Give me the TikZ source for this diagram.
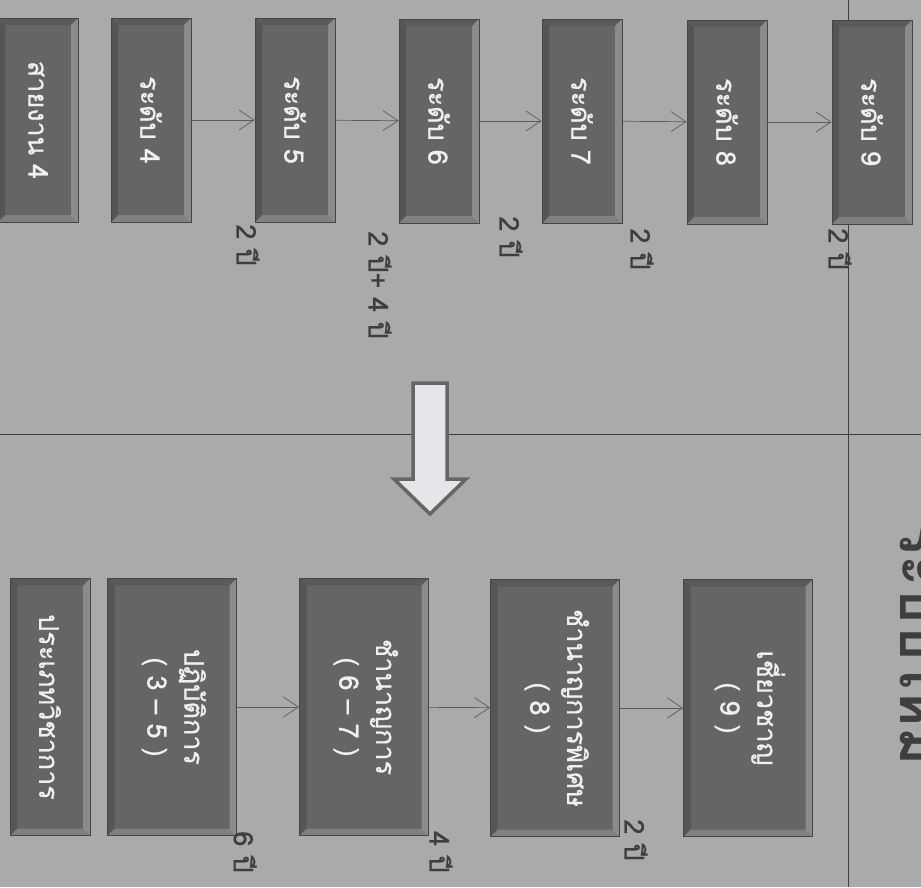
\documentclass[tikz,border=0pt]{standalone}
\usepackage{fontspec}
\setmainfont[Script=Thai]{Loma}
\newfontfamily\boxfont[Script=Thai, FakeBold=0.7]{Loma}
\usetikzlibrary{arrows.meta}

\definecolor{paper}{HTML}{A9AAAC}
\definecolor{boxgray}{HTML}{656567}
\definecolor{boxedge}{HTML}{454545}
\definecolor{boxtext}{HTML}{F0F0F0}
\definecolor{inkgray}{HTML}{3E3E3E}
\definecolor{arrowfill}{HTML}{E6E6EA}

\newcommand{\rot}[1]{\rotatebox{-90}{#1}}

\begin{document}
\begin{tikzpicture}[
x=1pt, y=-1pt,
lvl/.style={draw=boxedge, line width=0.8pt, fill=boxgray, text=boxtext,
  minimum width=80pt, minimum height=204pt, inner sep=0pt,
  font=\boxfont\fontsize{27}{31}\selectfont, bevel},
grp/.style={lvl, minimum width=129pt, minimum height=257pt},
bevel/.style={path picture={
  \path (path picture bounding box.south west) coordinate (bl)
        (path picture bounding box.south east) coordinate (br)
        (path picture bounding box.north east) coordinate (tr)
        (path picture bounding box.north west) coordinate (tl);
  \fill[white, opacity=.25] (tr) -- (br) -- ([xshift=-7pt,yshift=7pt]br) -- ([xshift=-7pt,yshift=-7pt]tr) -- cycle;
  \fill[white, opacity=.18] (bl) -- (br) -- ([xshift=-7pt,yshift=7pt]br) -- ([xshift=7pt,yshift=7pt]bl) -- cycle;
  \fill[black, opacity=.15] (tl) -- (bl) -- ([xshift=7pt,yshift=7pt]bl) -- ([xshift=7pt,yshift=-7pt]tl) -- cycle;
  \fill[black, opacity=.10] (tl) -- (tr) -- ([xshift=-7pt,yshift=-7pt]tr) -- ([xshift=7pt,yshift=-7pt]tl) -- cycle;
}},
arrow/.style={-{Straight Barb[length=15pt,width=20pt]}, line width=0.7pt, draw=inkgray!85},
yrs/.style={text=inkgray, inner sep=0pt, font=\boxfont\fontsize{27}{31}\selectfont},
rule/.style={draw=inkgray, line width=0.8pt}
]

\useasboundingbox (0,0) rectangle (921,887);
\fill[paper] (0,0) rectangle (921,887);

% dividers
\coordinate (vtop) at (848,0);
\coordinate (vbot) at (848,887);
\coordinate (hleft) at (0,434);
\coordinate (hright) at (921,434);
\draw[rule] (vtop) -- (vbot);
\draw[rule] (hleft) -- (hright);

% old levels
\node[lvl] (line4) at (38,120) {\rot{สายงาน 4}};
\node[lvl] (lv4) at (151,120) {\rot{ระดับ 4}};
\node[lvl] (lv5) at (295,120) {\rot{ระดับ 5}};
\node[lvl] (lv6) at (439,121) {\rot{ระดับ 6}};
\node[lvl] (lv7) at (582,121) {\rot{ระดับ 7}};
\node[lvl] (lv8) at (727,122) {\rot{ระดับ 8}};
\node[lvl] (lv9) at (872,122) {\rot{ระดับ 9}};

\draw[arrow] (lv4) -- (lv5);
\draw[arrow] (lv5) -- (lv6);
\draw[arrow] (lv6) -- (lv7);
\draw[arrow] (lv7) -- (lv8);
\draw[arrow] (lv8) -- (lv9);

\node[yrs] (y5) at (248,245) {\rot{2 ปี}};
\node[yrs] (y6) at (380,285) {\rot{2 ปี+ 4 ปี}};
\node[yrs] (y7) at (511,237) {\rot{2 ปี}};
\node[yrs] (y8) at (642,249) {\rot{2 ปี}};
\node[yrs] (y9) at (840,249) {\rot{2 ปี}};

% change
\draw[draw=inkgray!80, line width=3.5pt, fill=arrowfill, line join=miter]
  (413,383) -- (447,383) -- (447,479) -- (466,479) -- (430,514)
  -- (394,479) -- (413,479) -- cycle;

% new groups
\node[lvl, minimum height=257pt] (acad) at (50,707) {\rot{ประเภทวิชาการ}};
\node[grp] (op) at (172,707) {\rot{\begin{tabular}{@{}c@{}}ปฏิบัติการ\\[6pt]( 3 – 5 )\end{tabular}}};
\node[grp] (pro) at (364,707) {\rot{\begin{tabular}{@{}c@{}}ชำนาญการ\\[6pt]( 6 – 7 )\end{tabular}}};
\node[grp] (spro) at (555,708) {\rot{\begin{tabular}{@{}c@{}}ชำนาญการพิเศษ\\[6pt]( 8 )\end{tabular}}};
\node[grp] (exp) at (748,708) {\rot{\begin{tabular}{@{}c@{}}เชี่ยวชาญ\\[6pt]( 9 )\end{tabular}}};

\draw[arrow] (op) -- (pro);
\draw[arrow] (pro) -- (spro);
\draw[arrow] (spro) -- (exp);

\node[yrs] (g6) at (245,852) {\rot{6 ปี}};
\node[yrs] (g4) at (441,852) {\rot{4 ปี}};
\node[yrs] (g2) at (636,840) {\rot{2 ปี}};

% heading, cut by the page edge
\node[anchor=west, inner sep=0pt, text=inkgray,
  font=\fontsize{58}{62}\selectfont\bfseries] (head) at (900,645) {\rot{ระบบใหม่}};

\end{tikzpicture}
\end{document}
